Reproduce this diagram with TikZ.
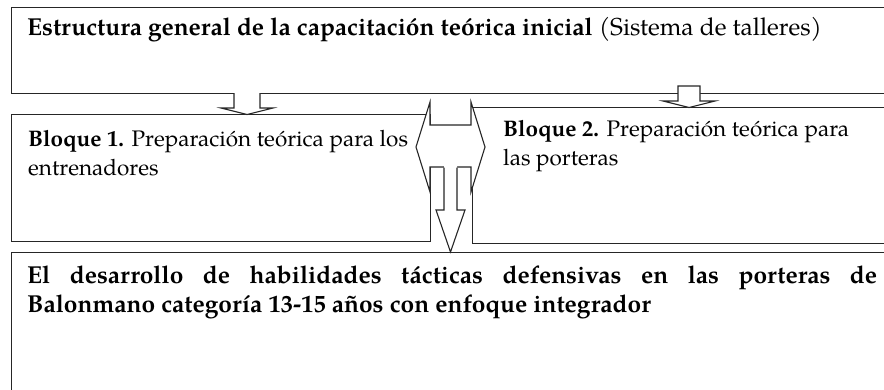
\documentclass[tikz,border=0pt]{standalone}
\usepackage{fontspec}
\setmainfont{TeX Gyre Pagella}
\begin{document}
\begin{tikzpicture}[x=1pt,y=-1pt,
  box/.style={draw=black!85, line width=1.1pt, fill=white, inner sep=0pt, anchor=north west},
  blockarrow/.style={draw=black!85, line width=1.1pt, fill=white, line join=miter},
  txt/.style={inner sep=0pt, anchor=base west, text=black},
  topfont/.style={font=\fontsize{24.5}{28}\selectfont},
  blkfont/.style={font=\fontsize{22.5}{26}\selectfont},
  botfont/.style={font=\fontsize{24.5}{29}\selectfont\bfseries}]
\useasboundingbox (0,0) rectangle (884,389);
\clip (0,0) rectangle (884,389);
% boxes
\node[box, minimum width=899pt, minimum height=86pt] (top) at (11,7) {};
\node[box, minimum width=419pt, minimum height=127pt] (b1) at (11,114) {};
\node[box, minimum width=438pt, minimum height=136pt] (b2) at (472,107) {};
\node[box, minimum width=899pt, minimum height=150pt] (bot) at (11,252) {};
% small arrows
\draw[blockarrow] (234,93) -- (234,108) -- (221,108) -- (247,114.5) -- (273,108) -- (260,108) -- (260,93);
\draw[blockarrow] (678,86) -- (678,101) -- (663,101) -- (689,107.5) -- (715,101) -- (700,101) -- (700,86) -- cycle;
% left-right arrow
\draw[blockarrow] (416,147) -- (430,102) -- (430,125) -- (471,125) -- (471,102) -- (485,147)
  -- (471,192) -- (471,167) -- (430,167) -- (430,192) -- cycle;
% down arrow
\fill[white] (444,165) -- (444,210) -- (436,210) -- (450.5,252) -- (465,210) -- (457,210) -- (457,165) -- cycle;
\draw[blockarrow, fill=none] (444,167.5) -- (444,210) -- (436,210) -- (450.5,252) -- (465,210) -- (457,210) -- (457,167.5);
% texts
\node[txt, topfont] (ttop) at (27,35) {\textbf{Estructura general de la capacitación teórica inicial} (Sistema de talleres)};
\node[txt, blkfont] (t1a) at (28,146) {\textbf{Bloque 1.} Preparación teórica para los};
\node[txt, blkfont] (t1b) at (28,175) {entrenadores};
\node[txt, blkfont] (t2a) at (503,136) {\textbf{Bloque 2.} Preparación teórica para};
\node[txt, blkfont] (t2b) at (503,165) {las porteras};
\node[txt, botfont] (t3a) at (27,283) {\makebox[850pt][s]{El desarrollo de habilidades tácticas defensivas en las porteras de}};
\node[txt, botfont] (t3b) at (27,312) {Balonmano categoría 13-15 años con enfoque integrador};
\end{tikzpicture}
\end{document}
